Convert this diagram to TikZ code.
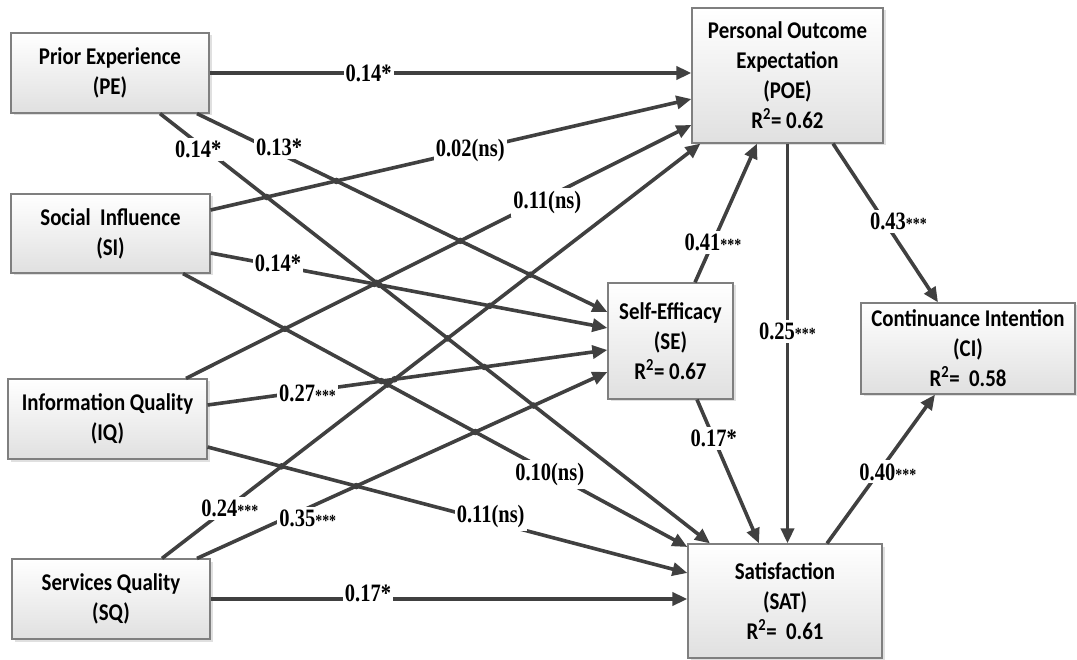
\documentclass[tikz,border=0pt]{standalone}
\usepackage{fontspec}
\setmainfont[FakeStretch=0.87]{Carlito}
\newfontfamily\numfamily[FakeStretch=0.82]{Liberation Serif}
\usetikzlibrary{arrows.meta,shadows,intersections,calc}

\definecolor{linec}{HTML}{404040}
\definecolor{boxline}{HTML}{7F7F7F}
\definecolor{boxbot}{HTML}{E0E0E0}

\newcommand\boxfont{\bfseries\fontsize{24}{30}\selectfont}
\newcommand\coeffont{\numfamily\bfseries\fontsize{25}{26}\selectfont}
\newcommand\sigstars{{\fontsize{17}{17}\selectfont***}}

\tikzset{
  construct/.style={draw=boxline, line width=1.2pt, top color=white, bottom color=boxbot,
    drop shadow={shadow xshift=2.5pt, shadow yshift=-2.5pt, fill=black, opacity=0.12},
    align=center, font=\boxfont, inner sep=0pt},
  link/.style={draw=linec, line width=3.6pt, -{Triangle[length=15pt,width=13pt]}},
  coef/.style={fill=white, inner xsep=2pt, inner ysep=3pt, font=\coeffont, text=black},
}

\begin{document}
\begin{tikzpicture}[x=1pt,y=-1pt]
\useasboundingbox (0,0) rectangle (1077,660);

% constructs
\node[construct, minimum width=198pt, minimum height=80pt] (PE) at (110,73) {Prior Experience\\(PE)};
\node[construct, minimum width=199pt, minimum height=79pt] (SI) at (110.5,233.5) {Social\ \ Influence\\(SI)};
\node[construct, minimum width=199pt, minimum height=80pt] (IQ) at (107.5,419) {Information Quality\\(IQ)};
\node[construct, minimum width=198pt, minimum height=80pt] (SQ) at (111,599) {Services Quality\\(SQ)};
\node[construct, minimum width=191pt, minimum height=135pt] (POE) at (787.5,75.5) {Personal Outcome\\Expectation\\(POE)\\R\textsuperscript{2}= 0.62};
\node[construct, minimum width=125pt, minimum height=116pt] (SE) at (670.5,341) {Self-Efficacy\\(SE)\\R\textsuperscript{2}= 0.67};
\node[construct, minimum width=214pt, minimum height=91pt] (CI) at (968,348.5) {Continuance Intention\\(CI)\\R\textsuperscript{2}=\ \ 0.58};
\node[construct, minimum width=194pt, minimum height=114pt] (SAT) at (785,601) {Satisfaction\\(SAT)\\R\textsuperscript{2}=\ \ 0.61};

% paths
\draw[link] (PE.east) -- coordinate[pos=0.33] (m1) (PE.east -| POE.west);
\draw[link, name path=a] ([xshift=87pt]PE.south) -- coordinate[pos=0.20] (m2) ([yshift=29pt]SE.west);
\draw[link, name path=b] ([xshift=50pt]PE.south) -- coordinate[pos=0.075] (m3) ([xshift=-75pt]SAT.north);
\draw[link, name path=c] ([yshift=23.5pt]SI.east) -- coordinate[pos=0.54] (m4) ([yshift=-23.5pt]POE.west);
\draw[link, name path=d] ([yshift=-19.5pt]SI.east) -- coordinate[pos=0.17] (m5) ([yshift=13pt]SE.west);
\draw[link, name path=e] ([xshift=72.5pt]SI.south) -- coordinate[pos=0.727] (m6) ([yshift=54pt]SAT.west);
\draw[link, name path=f] ([xshift=78.5pt]IQ.north) -- coordinate[pos=0.715] (m7) ([yshift=-49.5pt]POE.west);
\draw[link, name path=g] ([yshift=14pt]IQ.east) -- coordinate[pos=0.25] (m8) ([yshift=-9pt]SE.west);
\draw[link, name path=h] ([yshift=-28pt]IQ.east) -- coordinate[pos=0.59] (m9) ([yshift=28pt]SAT.west);
\draw[link, name path=i] ([xshift=51pt]SQ.north) -- coordinate[pos=0.126] (m10) ([xshift=-87pt]POE.south);
\draw[link, name path=j] ([xshift=86pt]SQ.north) -- coordinate[pos=0.27] (m11) ([yshift=-31pt]SE.west);
\draw[link] (SQ.east) -- coordinate[pos=0.33] (m12) (SQ.east -| SAT.west);
\draw[link] ([xshift=24.5pt]SE.north) -- coordinate[pos=0.29] (m13) ([xshift=-30.5pt]POE.south);
\draw[link] ([xshift=26.5pt]SE.south) -- coordinate[pos=0.27] (m14) ([xshift=-26pt]SAT.north);
\draw[link] (POE.south) -- coordinate[pos=0.47] (m15) (POE.south |- SAT.north);
\draw[link] ([xshift=45.5pt]POE.south) -- coordinate[pos=0.49] (m16) ([xshift=-30pt]CI.north);
\draw[link] ([xshift=42pt]SAT.north) -- coordinate[pos=0.48] (m17) ([xshift=-33pt]CI.south);

% crossing marks
\foreach \p/\q in {a/c,a/f,a/i,b/c,b/d,b/f,b/g,b/i,b/j,d/f,d/i,e/f,e/g,e/i,e/j,g/i,h/i,h/j}{
  \edef\crossmark{\noexpand\fill[linec, name intersections={of=\p\space and \q}] (intersection-1) circle (3.3pt);}
  \crossmark
}

% path coefficients
\node[coef] (k1) at (m1) {0.14*};
\node[coef, yshift=6pt] (k2) at (m2) {0.13*};
\node[coef, xshift=-3pt, yshift=-4pt] (k3) at (m3) {0.14*};
\node[coef] (k4) at (m4) {0.02(ns)};
\node[coef, yshift=2pt] (k5) at (m5) {0.14*};
\node[coef, yshift=-2pt] (k6) at (m6) {0.10(ns)};
\node[coef, yshift=-5pt] (k7) at (m7) {0.11(ns)};
\node[coef, yshift=-2pt] (k8) at (m8) {0.27\sigstars};
\node[coef, yshift=5pt] (k9) at (m9) {0.11(ns)};
\node[coef, yshift=-2pt] (k10) at (m10) {0.24\sigstars};
\node[coef, yshift=-10pt] (k11) at (m11) {0.35\sigstars};
\node[coef, yshift=6pt] (k12) at (m12) {0.17*};
\node[coef] (k13) at (m13) {0.41\sigstars};
\node[coef] (k14) at (m14) {0.17*};
\node[coef] (k15) at (m15) {0.25\sigstars};
\node[coef, xshift=14pt] (k16) at (m16) {0.43\sigstars};
\node[coef, xshift=9pt] (k17) at (m17) {0.40\sigstars};
\end{tikzpicture}
\end{document}
